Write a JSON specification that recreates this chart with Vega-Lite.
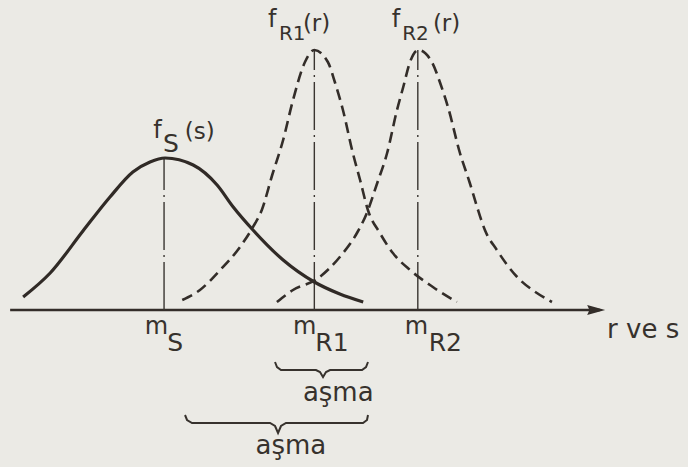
{
  "$schema": "https://vega.github.io/schema/vega-lite/v6.json",
  "width": 688,
  "height": 467,
  "autosize": {"type": "fit", "contains": "padding"},
  "padding": 0,
  "background": "#ebeae5",
  "config": {
    "view": {"stroke": null},
    "axis": {"disable": true},
    "text": {"font": "DejaVu Sans", "color": "#37322d", "baseline": "alphabetic", "align": "left"}
  },
  "datasets": {
    "curves": [
      {"dist": "fS", "x": -6.9, "y": 1.3},
      {"dist": "fS", "x": -1.7, "y": 3.7},
      {"dist": "fS", "x": 4.6, "y": 7.9},
      {"dist": "fS", "x": 9.8, "y": 11.3},
      {"dist": "fS", "x": 14.2, "y": 13.8},
      {"dist": "fS", "x": 17.5, "y": 14.8},
      {"dist": "fS", "x": 20.4, "y": 15.2},
      {"dist": "fS", "x": 25.8, "y": 14.5},
      {"dist": "fS", "x": 30.4, "y": 12.5},
      {"dist": "fS", "x": 33.5, "y": 10.3},
      {"dist": "fS", "x": 37.3, "y": 8.0},
      {"dist": "fS", "x": 43.1, "y": 5.0},
      {"dist": "fS", "x": 49.1, "y": 2.8},
      {"dist": "fS", "x": 54.0, "y": 1.6},
      {"dist": "fS", "x": 58.5, "y": 0.8},

      {"dist": "fR1", "x": 23.7, "y": 1.0},
      {"dist": "fR1", "x": 27.1, "y": 2.0},
      {"dist": "fR1", "x": 31.0, "y": 4.0},
      {"dist": "fR1", "x": 34.8, "y": 6.3},
      {"dist": "fR1", "x": 37.3, "y": 8.3},
      {"dist": "fR1", "x": 39.0, "y": 10.0},
      {"dist": "fR1", "x": 41.0, "y": 13.5},
      {"dist": "fR1", "x": 43.1, "y": 17.0},
      {"dist": "fR1", "x": 45.0, "y": 21.0},
      {"dist": "fR1", "x": 47.3, "y": 24.8},
      {"dist": "fR1", "x": 49.1, "y": 26.0},
      {"dist": "fR1", "x": 51.7, "y": 24.8},
      {"dist": "fR1", "x": 53.1, "y": 22.7},
      {"dist": "fR1", "x": 54.6, "y": 20.0},
      {"dist": "fR1", "x": 56.5, "y": 15.7},
      {"dist": "fR1", "x": 57.9, "y": 13.0},
      {"dist": "fR1", "x": 59.4, "y": 10.0},
      {"dist": "fR1", "x": 61.7, "y": 7.7},
      {"dist": "fR1", "x": 64.2, "y": 5.7},
      {"dist": "fR1", "x": 67.5, "y": 4.0},
      {"dist": "fR1", "x": 71.9, "y": 2.3},
      {"dist": "fR1", "x": 76.5, "y": 0.8},

      {"dist": "fR2", "x": 41.9, "y": 0.8},
      {"dist": "fR2", "x": 45.0, "y": 2.0},
      {"dist": "fR2", "x": 49.6, "y": 3.1},
      {"dist": "fR2", "x": 54.0, "y": 5.3},
      {"dist": "fR2", "x": 57.3, "y": 7.7},
      {"dist": "fR2", "x": 59.2, "y": 9.7},
      {"dist": "fR2", "x": 61.2, "y": 12.7},
      {"dist": "fR2", "x": 63.1, "y": 15.7},
      {"dist": "fR2", "x": 65.0, "y": 20.0},
      {"dist": "fR2", "x": 66.2, "y": 22.3},
      {"dist": "fR2", "x": 67.5, "y": 24.8},
      {"dist": "fR2", "x": 69.1, "y": 26.0},
      {"dist": "fR2", "x": 71.7, "y": 24.8},
      {"dist": "fR2", "x": 73.3, "y": 22.7},
      {"dist": "fR2", "x": 74.8, "y": 20.3},
      {"dist": "fR2", "x": 77.1, "y": 15.7},
      {"dist": "fR2", "x": 79.0, "y": 12.7},
      {"dist": "fR2", "x": 80.4, "y": 10.3},
      {"dist": "fR2", "x": 81.9, "y": 8.0},
      {"dist": "fR2", "x": 84.2, "y": 6.0},
      {"dist": "fR2", "x": 88.1, "y": 3.3},
      {"dist": "fR2", "x": 91.9, "y": 1.7},
      {"dist": "fR2", "x": 94.8, "y": 0.8}
    ],
    "means": [
      {"mean": "mS", "x": 20.2, "y": 0, "top": 15.2},
      {"mean": "mR1", "x": 49.1, "y": 0, "top": 26.0},
      {"mean": "mR2", "x": 69.0, "y": 0, "top": 26.0}
    ],
    "baseline": [
      {"x": -9.4, "x_end": 104.0, "y": 0}
    ],
    "arrow": [
      {"x": 103.3, "y": 0}
    ],
    "braces": [
      {"brace": "R2", "x": 41.54, "y": -5.2},
      {"brace": "R2", "x": 41.92, "y": -5.7},
      {"brace": "R2", "x": 42.69, "y": -6.0},
      {"brace": "R2", "x": 49.42, "y": -6.0},
      {"brace": "R2", "x": 50.19, "y": -6.2},
      {"brace": "R2", "x": 50.77, "y": -6.7},
      {"brace": "R2", "x": 51.35, "y": -6.2},
      {"brace": "R2", "x": 52.12, "y": -6.0},
      {"brace": "R2", "x": 58.27, "y": -6.0},
      {"brace": "R2", "x": 59.04, "y": -5.7},
      {"brace": "R2", "x": 59.42, "y": -5.2},

      {"brace": "R1", "x": 24.23, "y": -10.5},
      {"brace": "R1", "x": 24.62, "y": -11.0},
      {"brace": "R1", "x": 25.58, "y": -11.3},
      {"brace": "R1", "x": 40.58, "y": -11.3},
      {"brace": "R1", "x": 41.54, "y": -11.6},
      {"brace": "R1", "x": 42.12, "y": -12.3},
      {"brace": "R1", "x": 42.69, "y": -11.6},
      {"brace": "R1", "x": 43.65, "y": -11.3},
      {"brace": "R1", "x": 58.46, "y": -11.3},
      {"brace": "R1", "x": 59.23, "y": -11.0},
      {"brace": "R1", "x": 59.42, "y": -10.5}
    ],
    "labels": [
      {"text": "f", "kind": "main", "x": 18.1, "y": 17.2},
      {"text": "S", "kind": "sub", "x": 20.0, "y": 15.8},
      {"text": "(s)", "kind": "paren", "x": 24.2, "y": 17.1},
      {"text": "f", "kind": "main", "x": 40.2, "y": 28.3},
      {"text": "R1", "kind": "subsmall", "x": 42.3, "y": 27.0},
      {"text": "(r)", "kind": "paren", "x": 46.9, "y": 27.9},
      {"text": "f", "kind": "main", "x": 64.0, "y": 28.3},
      {"text": "R2", "kind": "subsmall", "x": 66.0, "y": 27.0},
      {"text": "(r)", "kind": "paren", "x": 71.9, "y": 27.9},
      {"text": "m", "kind": "main", "x": 16.5, "y": -2.4},
      {"text": "S", "kind": "sub", "x": 20.8, "y": -4.1},
      {"text": "m", "kind": "main", "x": 45.0, "y": -2.4},
      {"text": "R1", "kind": "sub", "x": 49.3, "y": -4.1},
      {"text": "m", "kind": "main", "x": 66.5, "y": -2.4},
      {"text": "R2", "kind": "sub", "x": 71.1, "y": -4.1},
      {"text": "r ve s", "kind": "word", "x": 105.4, "y": -2.8},
      {"text": "aşma", "kind": "note", "x": 53.7, "y": -9.1},
      {"text": "aşma", "kind": "note", "x": 44.6, "y": -14.4}
    ]
  },
  "encoding": {
    "x": {"field": "x", "type": "quantitative", "scale": {"domain": [-11.35, 120.96], "nice": false, "zero": false}},
    "y": {"field": "y", "type": "quantitative", "scale": {"domain": [-15.7, 31.0], "nice": false, "zero": false}}
  },
  "layer": [
    {
      "data": {"name": "baseline"},
      "mark": {"type": "rule", "color": "#332d29", "strokeWidth": 2.6},
      "encoding": {"x2": {"field": "x_end"}}
    },
    {
      "data": {"name": "arrow"},
      "mark": {"type": "point", "shape": "M-1,-0.55L1,0L-1,0.55L-0.75,0Z", "size": 324, "filled": true, "opacity": 1, "color": "#332d29", "strokeWidth": 0}
    },
    {
      "data": {"name": "means"},
      "mark": {"type": "rule", "color": "#3a3531", "strokeWidth": 1.4, "strokeDash": [48, 5, 2, 5]},
      "encoding": {"y2": {"field": "top"}}
    },
    {
      "data": {"name": "curves"},
      "transform": [{"filter": "datum.dist === 'fS'"}],
      "mark": {"type": "line", "interpolate": "monotone", "color": "#302a26", "strokeWidth": 3.2}
    },
    {
      "data": {"name": "curves"},
      "transform": [{"filter": "datum.dist !== 'fS'"}],
      "mark": {"type": "line", "interpolate": "monotone", "color": "#332d29", "strokeWidth": 2.6, "strokeDash": [11, 6]},
      "encoding": {"detail": {"field": "dist"}}
    },
    {
      "data": {"name": "braces"},
      "mark": {"type": "line", "interpolate": "linear", "color": "#37322d", "strokeWidth": 2},
      "encoding": {"detail": {"field": "brace"}}
    },
    {
      "data": {"name": "labels"},
      "transform": [{"filter": "datum.kind === 'main'"}],
      "mark": {"type": "text", "fontSize": 24},
      "encoding": {"text": {"field": "text"}}
    },
    {
      "data": {"name": "labels"},
      "transform": [{"filter": "datum.kind === 'sub'"}],
      "mark": {"type": "text", "fontSize": 25},
      "encoding": {"text": {"field": "text"}}
    },
    {
      "data": {"name": "labels"},
      "transform": [{"filter": "datum.kind === 'subsmall'"}],
      "mark": {"type": "text", "fontSize": 20},
      "encoding": {"text": {"field": "text"}}
    },
    {
      "data": {"name": "labels"},
      "transform": [{"filter": "datum.kind === 'paren'"}],
      "mark": {"type": "text", "fontSize": 23},
      "encoding": {"text": {"field": "text"}}
    },
    {
      "data": {"name": "labels"},
      "transform": [{"filter": "datum.kind === 'word'"}],
      "mark": {"type": "text", "fontSize": 26},
      "encoding": {"text": {"field": "text"}}
    },
    {
      "data": {"name": "labels"},
      "transform": [{"filter": "datum.kind === 'note'"}],
      "mark": {"type": "text", "fontSize": 26, "align": "center"},
      "encoding": {"text": {"field": "text"}}
    }
  ]
}
